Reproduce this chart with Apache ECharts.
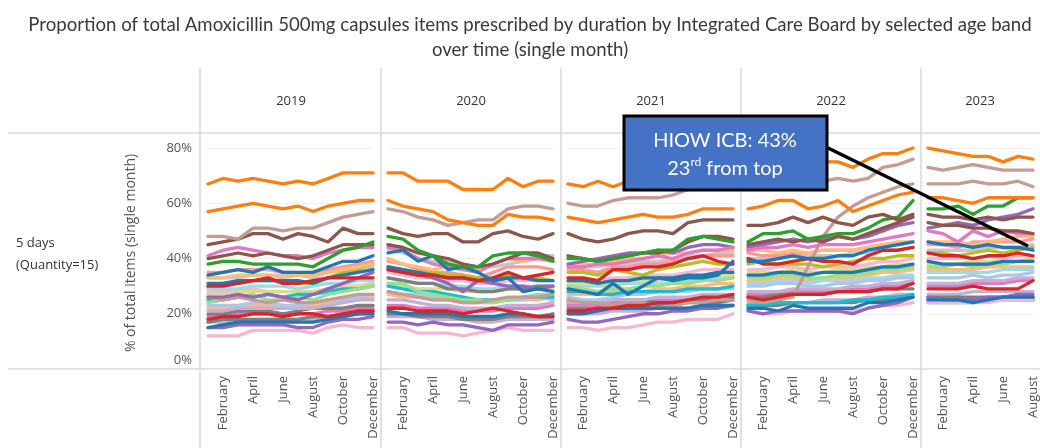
<!DOCTYPE html>
<html>
<head>
<meta charset="utf-8">
<script src="https://cdn.jsdelivr.net/npm/echarts@6.0.0/dist/echarts.min.js"></script>
<style>
  html, body { margin: 0; padding: 0; background: #fff; }
  #chart { width: 1040px; height: 448px; }
</style>
</head>
<body>
<div id="chart"></div>
<script>
// facets: one per year, 2023 only runs to August
const years = ['2019', '2020', '2021', '2022', '2023'];
const monthsPerYear = [12, 12, 12, 12, 8];
const months = ['January', 'February', 'March', 'April', 'May', 'June', 'July',
  'August', 'September', 'October', 'November', 'December'];
const yTicks = [0, 20, 40, 60, 80];

// % of items at 5 days, one value per month Jan 2019 .. Aug 2023 (56 values)
const orangeTop = [67,69,68,69,68,67,68,67,69,71,71,71, 71,71,68,68,68,65,65,65,69,66,68,68, 67,66,68,66,68,69,70,71,71,72,72,73, 73,73,74,74,74,75,75,73,76,78,78,80, 80,79,78,77,77,75,77,76];
const orangeSecond = [57,58,59,60,59,58,59,57,59,60,61,61, 61,59,58,57,54,53,52,52,56,55,55,54, 55,54,53,54,55,56,55,55,56,58,58,58, 58,59,61,61,58,59,61,57,59,61,63,64, 62,62,61,60,62,62,62,62];
const rosyUpper = [48,48,47,51,51,50,51,51,53,55,56,57, 58,57,55,54,52,53,54,54,58,59,59,58, 60,59,59,61,62,62,62,63,65,66,67,68, 67,67,67,68,68,68,69,68,69,73,74,76, 73,72,73,74,73,72,72,72];
const rosyRising = [26,25,26,25,24,25,24,24,25,26,27,27, 28,27,26,25,25,24,24,25,26,26,26,27, 25,24,24,23,24,24,22,23,24,24,25,25, 25,24,25,26,37,48,55,59,62,64,66,67, 67,67,67,68,67,67,68,66];
const brownUpper = [45,46,47,49,49,47,49,48,46,51,49,49, 51,49,48,49,49,46,46,49,50,48,47,49, 49,47,46,47,49,50,50,49,53,54,54,54, 52,52,53,55,53,55,53,52,55,56,54,56, 56,55,55,54,55,54,55,55];
const brownLower = [40,41,42,41,42,41,40,41,43,45,45,45, 45,44,42,41,40,38,37,38,40,42,42,40, 41,40,39,40,41,42,42,43,46,48,48,47, 45,46,47,46,47,46,48,47,49,51,53,55, 53,52,52,51,51,50,50,49];
const green = [38,39,39,38,38,38,38,37,40,43,44,46, 48,47,43,41,38,37,37,41,42,42,41,39, 40,40,39,40,41,42,43,43,47,48,47,46, 46,49,49,50,47,48,49,49,51,54,55,61, 58,58,59,56,59,59,62,62];
const blueMid = [34,35,36,35,37,35,35,35,37,39,39,41, 42,43,39,41,36,37,35,32,33,28,29,28, 29,28,27,31,27,30,33,32,33,33,34,39, 39,39,40,41,40,40,41,41,43,44,45,46, 46,45,45,44,45,44,44,43];
const red = [30,30,31,32,33,31,31,32,33,33,33,33, 36,35,34,34,33,33,32,33,35,33,34,35, 33,33,32,36,36,37,37,38,40,41,39,38, 40,38,38,39,40,39,39,38,41,43,43,44, 42,41,41,40,41,41,42,41];
const redLower = [18,19,19,20,20,19,20,20,19,20,21,21, 22,22,21,21,21,20,21,22,21,20,19,19, 21,21,22,22,23,23,24,24,25,26,26,27, 26,25,26,27,27,27,28,28,28,29,29,31, 29,29,29,30,29,29,29,32];
const purpleLow = [15,15,16,16,16,16,15,15,17,18,18,19, 17,17,16,17,16,16,15,14,16,16,16,17, 18,17,17,18,19,20,20,21,21,22,22,23, 21,20,21,21,21,21,21,20,22,23,24,26, 26,25,25,25,26,26,27,27];
const blueLow = [15,16,17,17,17,17,17,17,18,19,20,20, 21,20,20,20,20,19,19,19,20,20,19,19, 20,20,21,22,22,22,22,22,22,23,23,23, 22,22,21,23,22,22,22,22,24,24,25,26, 25,25,25,24,25,26,26,26];
const pinkLow = [12,12,12,14,14,14,14,13,15,16,15,15, 15,15,13,13,13,12,13,14,15,14,14,14, 15,15,14,15,15,16,17,17,18,18,18,20, 21,20,20,21,21,21,21,21,22,23,23,24, 24,24,24,24,24,25,25,25];
const purpleRise = [26,26,27,26,27,26,25,27,29,31,33,35, 36,35,34,33,31,28,32,31,30,30,29,30, 38,39,40,41,42,42,43,42,44,45,45,44, 44,45,46,47,46,47,48,47,48,50,52,53, 51,52,53,52,54,55,56,58];
const pinkHigh = [41,43,44,43,42,41,41,40,42,43,44,44, 44,43,40,38,37,36,35,38,40,40,40,39, 37,37,38,38,39,40,41,40,42,43,43,44, 43,44,44,45,44,45,45,45,46,47,48,49, 50,49,46,50,48,50,49,49];
const lightOrange = [33,33,34,34,34,33,34,34,35,36,37,38, 40,38,37,36,37,36,36,38,40,39,40,40, 38,38,38,39,40,40,41,42,42,43,43,43, 43,43,42,43,42,43,43,43,44,45,46,46, 46,46,46,45,46,47,48,48];
const olive = [30,31,31,32,32,32,31,31,33,35,36,38, 37,36,35,35,34,34,33,33,34,33,33,32, 35,35,34,36,35,34,36,37,38,39,38,38, 38,39,38,38,38,37,38,39,40,40,41,41, 42,42,41,42,43,42,43,44];
const lightGreen = [24,25,26,27,25,25,26,25,27,28,29,30, 31,31,28,27,26,25,25,24,25,26,27,27, 30,29,28,29,29,30,30,31,31,32,32,33, 33,33,34,34,33,33,34,34,35,36,36,37, 37,37,38,37,38,38,39,39];
const cyan = [25,25,26,26,27,26,27,27,28,29,29,30, 30,29,28,28,27,26,25,25,25,26,26,26, 28,28,27,27,28,28,28,28,29,29,29,30, 23,23,24,24,24,24,24,25,25,26,26,27, 24,24,24,24,25,25,25,25];
const lightBlue = [23,23,23,24,24,23,23,24,25,25,26,27, 28,27,27,26,25,24,24,24,25,25,26,25, 26,25,25,26,27,27,28,28,28,29,29,29, 30,30,31,31,30,30,31,31,32,32,33,33, 33,33,33,34,33,34,34,35];
const lightRed = [35,35,36,36,36,35,35,35,36,37,38,39, 39,38,36,35,35,34,33,35,37,37,37,36, 36,36,35,37,37,38,38,39,40,41,41,41, 42,41,41,42,42,43,43,43,44,45,45,46, 45,45,44,46,46,46,46,47];
const lightPurple = [21,21,22,22,22,22,22,22,23,24,25,25, 25,25,24,23,23,22,22,22,23,23,23,24, 24,24,24,25,25,25,26,26,26,27,27,27, 28,28,28,29,29,29,29,30,30,31,31,32, 31,31,31,32,32,32,33,33];
const gray = [20,20,21,21,21,20,21,22,22,22,23,23, 33,32,31,31,29,29,28,28,29,29,30,30, 24,24,24,25,25,25,24,24,25,25,26,26, 26,26,27,27,27,27,28,28,28,29,29,29, 25,25,26,25,25,26,26,25];
const lightGray = [33,33,33,34,34,34,34,33,35,36,37,37, 43,42,40,39,39,38,37,37,38,39,41,41, 37,37,37,38,38,39,39,40,41,41,42,42, 40,40,40,41,41,41,41,42,42,43,43,44, 43,43,43,43,44,44,44,45];
const lightOlive = [27,27,28,28,28,28,28,28,29,30,30,31, 31,30,29,29,29,28,28,28,29,29,29,29, 31,31,31,31,32,32,32,33,33,34,34,34, 35,35,35,36,35,35,36,36,37,37,38,38, 38,38,38,39,39,39,39,40];
const lightCyan = [29,29,29,30,30,30,29,30,31,31,32,32, 33,32,31,31,30,30,29,29,30,30,30,30, 30,30,30,30,31,31,31,31,32,32,33,33, 31,31,32,32,31,32,32,32,33,33,34,34, 35,35,35,35,35,36,36,36];
const lightPinkMid = [28,28,28,29,28,28,28,28,29,30,30,31, 35,34,33,33,32,32,31,31,32,32,32,32, 33,32,32,33,33,34,34,34,35,36,36,36, 36,36,37,37,36,37,37,37,38,39,39,40, 40,40,40,40,41,40,41,41];
const blueMidLow = [31,31,32,32,32,32,32,31,33,34,35,36, 37,36,35,34,33,33,32,32,33,33,32,32, 32,32,31,32,32,33,33,33,34,34,35,35, 34,34,35,35,34,35,35,35,36,37,37,38, 39,38,38,38,38,39,39,39];
const lightOrangeLow = [22,22,22,23,23,23,22,23,24,24,25,26, 27,26,26,25,25,24,24,24,25,25,25,26, 27,27,27,28,28,28,29,29,30,30,31,31, 32,32,33,33,32,33,33,33,34,35,35,36, 36,36,36,36,37,37,37,37];
const pinkLowMid = [19,19,20,20,20,20,20,20,21,21,22,22, 23,23,22,22,22,21,21,21,22,22,22,23, 23,23,23,24,24,24,25,25,25,26,26,26, 27,27,27,28,28,28,28,29,29,30,30,31, 30,30,30,31,31,31,32,32];
const grayLow = [17,18,18,18,18,18,18,19,19,20,20,21, 20,20,19,19,19,18,18,18,19,19,19,20, 22,22,22,22,23,23,23,23,24,24,24,25, 23,23,23,24,24,24,24,24,25,25,26,26, 26,26,26,26,26,26,26,26];
const lightPurpleLow = [17,17,17,18,18,18,18,18,19,19,20,20, 19,19,19,18,18,18,17,17,18,18,18,18, 20,20,20,21,21,21,22,22,22,23,23,23, 24,24,24,24,24,25,25,25,26,26,27,27, 27,27,27,28,28,28,28,28];

// back to front
const icbLines = [
  [lightPurpleLow, '#c5b0d5'], [grayLow, '#7f7f7f'], [pinkLowMid, '#e377c2'],
  [lightOrangeLow, '#ffbb78'], [lightPinkMid, '#f7b6d2'], [lightCyan, '#9edae5'],
  [lightOlive, '#dbdb8d'], [lightGray, '#c7c7c7'], [gray, '#7f7f7f'],
  [lightPurple, '#c5b0d5'], [lightRed, '#ff9896'], [lightBlue, '#aec7e8'],
  [cyan, '#17becf'], [lightGreen, '#98df8a'], [olive, '#bcbd22'],
  [lightOrange, '#ffbb78'], [rosyRising, '#c49c94'], [blueMidLow, '#1f77b4'],
  [pinkLow, '#f7b6d2'], [purpleLow, '#9467bd'], [blueLow, '#1f77b4'],
  [redLower, '#d62728'], [purpleRise, '#9467bd'], [pinkHigh, '#e377c2'],
  [red, '#d62728'], [blueMid, '#1f77b4'], [brownLower, '#8c564b'],
  [green, '#2ca02c'], [brownUpper, '#8c564b'], [rosyUpper, '#c49c94'],
  [orangeSecond, '#ff7f0e'], [orangeTop, '#ff7f0e']
];

const FONT = '"Open Sans", "Noto Sans", sans-serif';
const TITLE_FONT = 'Lato, "Open Sans", sans-serif';
const LINE_COLOR = '#d9d9d9';

const chart = echarts.init(document.getElementById('chart'), null, { renderer: 'canvas' });

const grids = [], xAxes = [], yAxes = [], series = [];
let offset = 0;
const yearStart = [];
years.forEach((yr, i) => {
  yearStart.push(offset);
  offset += monthsPerYear[i];
  grids.push({ left: 208 + 180 * i, top: 137, width: (monthsPerYear[i] - 1) * 15, height: 232 });
  xAxes.push({
    type: 'category',
    gridIndex: i,
    data: months.slice(0, monthsPerYear[i]),
    boundaryGap: false,
    axisLine: { show: false },
    axisTick: { show: false },
    splitLine: { show: false },
    axisLabel: {
      interval: (idx) => idx % 2 === 1,
      rotate: 90,
      margin: 7,
      fontSize: 13,
      color: '#555',
      fontFamily: FONT
    }
  });
  yAxes.push({
    type: 'value',
    gridIndex: i,
    min: yTicks[0],
    max: 84,
    interval: 20,
    axisLine: { show: false },
    axisTick: { show: false },
    splitLine: { show: true, showMaxLine: false, lineStyle: { color: '#f0f0f0', width: 1 } },
    name: i === 0 ? '% of total items (single month)' : '',
    nameLocation: 'middle',
    nameGap: 70,
    nameTextStyle: { fontSize: 14, color: '#555', fontFamily: FONT },
    axisLabel: {
      show: i === 0,
      showMaxLabel: false,
      margin: 16,
      fontSize: 13,
      color: '#555',
      fontFamily: FONT,
      formatter: (v) => yTicks.indexOf(v) < 0 ? '' : (v === 0 ? '{z|0%}' : v + '%'),
      rich: { z: { fontSize: 13, color: '#555', fontFamily: FONT, padding: [0, 0, 18, 0] } }
    }
  });
});

icbLines.forEach(([values, color]) => {
  years.forEach((yr, i) => {
    series.push({
      type: 'line',
      xAxisIndex: i,
      yAxisIndex: i,
      data: values.slice(yearStart[i], yearStart[i] + monthsPerYear[i]),
      showSymbol: false,
      silent: true,
      animation: false,
      lineStyle: { width: 3.3, color: color, join: 'round', cap: 'round' },
      itemStyle: { color: color }
    });
  });
});

// facet frame, headers and the callout
const graphics = [];
const sepX = [200, 381, 561, 741, 921];
sepX.forEach(x => graphics.push({
  type: 'line', shape: { x1: x, y1: 68, x2: x, y2: 448 },
  style: { stroke: LINE_COLOR, lineWidth: 1.5 }, silent: true
}));
graphics.push({ type: 'line', shape: { x1: 8, y1: 133, x2: 1040, y2: 133 }, style: { stroke: LINE_COLOR, lineWidth: 1.5 } });
graphics.push({ type: 'line', shape: { x1: 8, y1: 369, x2: 1040, y2: 369 }, style: { stroke: LINE_COLOR, lineWidth: 1.5 } });
const yearCenters = [291, 471, 651, 831, 980];
years.forEach((yr, i) => graphics.push({
  type: 'text', x: yearCenters[i], y: 101,
  style: { text: yr, fontSize: 13, fill: '#333', fontFamily: FONT, align: 'center', verticalAlign: 'middle' }
}));
graphics.push({
  type: 'text', x: 16, y: 254,
  style: { text: '5 days\n(Quantity=15)', fontSize: 13, lineHeight: 22, fill: '#333', fontFamily: FONT, align: 'left', verticalAlign: 'middle' }
});
graphics.push({
  type: 'line', shape: { x1: 826, y1: 147, x2: 1028, y2: 246 },
  style: { stroke: '#000', lineWidth: 3.5 }, z: 100
});
graphics.push({
  type: 'rect', shape: { x: 624, y: 116, width: 203, height: 74 },
  style: { fill: '#4472c4', stroke: '#000', lineWidth: 3 }, z: 101
});
graphics.push({
  type: 'text', x: 725, y: 141, z: 102,
  style: { text: 'HIOW ICB: 43%', fontSize: 20, fill: '#fff', fontFamily: TITLE_FONT, align: 'center', verticalAlign: 'middle' }
});
graphics.push({
  type: 'text', x: 725, y: 169, z: 102,
  style: {
    text: '23{sup|rd} from top', fontSize: 20, lineHeight: 26, fill: '#fff', fontFamily: TITLE_FONT,
    align: 'center', verticalAlign: 'middle',
    rich: { sup: { fontSize: 12, fill: '#fff', fontFamily: TITLE_FONT, verticalAlign: 'top' } }
  }
});

chart.setOption({
  animation: false,
  backgroundColor: '#fff',
  title: {
    text: 'Proportion of total Amoxicillin 500mg capsules items prescribed by duration by Integrated Care Board by selected age band\nover time (single month)',
    left: 525,
    textAlign: 'center',
    top: 7,
    textStyle: { fontSize: 18.6, fontWeight: 'normal', color: '#3a3a3a', lineHeight: 25, fontFamily: TITLE_FONT }
  },
  grid: grids,
  xAxis: xAxes,
  yAxis: yAxes,
  series: series,
  graphic: graphics
});
</script>
</body>
</html>
